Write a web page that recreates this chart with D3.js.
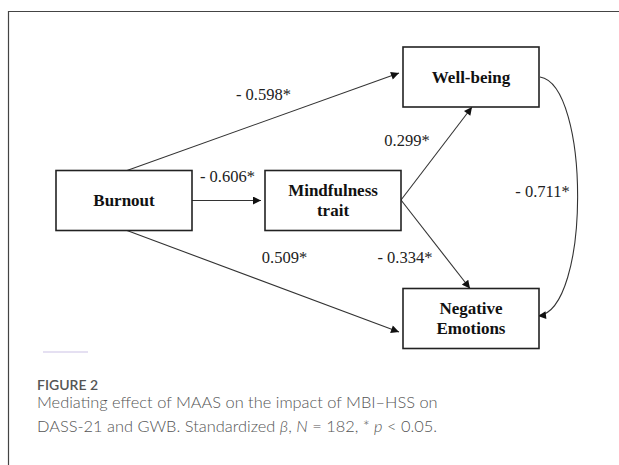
<!DOCTYPE html>
<html>
<head>
<meta charset="utf-8">
<script src="https://cdn.jsdelivr.net/npm/d3@7"></script>
<style>
  body { margin: 0; background: #fff; }
</style>
</head>
<body>
<svg width="619" height="465"></svg>
<script>
var svg = d3.select("svg"),
  width = +svg.attr("width"),
  height = +svg.attr("height");

// nodes of the path model (column / row of the grid)
var nodeNames = ["Burnout", "Mindfulness trait", "Well-being", "Negative Emotions"];
var nodeLines = [["Burnout"], ["Mindfulness", "trait"], ["Well-being"], ["Negative", "Emotions"]];
var nodeCols = ["c0", "c1", "c2", "c2"];
var nodeRows = ["mid", "mid", "top", "bot"];

// paths and standardized coefficients
var edgeFrom = ["Burnout", "Burnout", "Burnout", "Mindfulness trait", "Mindfulness trait", "Well-being"];
var edgeTo = ["Well-being", "Mindfulness trait", "Negative Emotions", "Well-being", "Negative Emotions", "Negative Emotions"];
var edgeLabels = ["- 0.598*", "- 0.606*", "0.509*", "0.299*", "- 0.334*", "- 0.711*"];

// layout
var colX = d3.scaleOrdinal().domain(["c0", "c1", "c2"]).range([124, 333, 471]);
var rowY = d3.scaleOrdinal().domain(["top", "mid", "bot"]).range([77, 200.5, 318.5]);
var boxW = 136, boxH = 60;

var nodes = nodeNames.map(function (n, i) {
  return { name: n, lines: nodeLines[i], x: colX(nodeCols[i]), y: rowY(nodeRows[i]) };
});
var byName = {};
nodes.forEach(function (d) { byName[d.name] = d; });

// frame
svg.append("path")
  .attr("d", "M8.5," + height + "V11.5H" + width)
  .attr("fill", "none")
  .attr("stroke", "#444")
  .attr("stroke-width", 1.2);

// arrow marker
svg.append("defs").append("marker")
  .attr("id", "arrow")
  .attr("viewBox", "0 0 10 10")
  .attr("refX", 10).attr("refY", 5)
  .attr("markerWidth", 10).attr("markerHeight", 8)
  .attr("markerUnits", "userSpaceOnUse")
  .attr("orient", "auto")
  .append("path")
  .attr("d", "M0,0L10,5L0,10Z")
  .attr("fill", "#111");

// anchor points on the boxes
function side(d, s, dx) {
  dx = dx || 0;
  if (s == "top") return [d.x + dx, d.y - boxH / 2];
  if (s == "bottom") return [d.x + dx, d.y + boxH / 2];
  if (s == "left") return [d.x - boxW / 2 - 4, d.y + dx];
  return [d.x + boxW / 2, d.y + dx];
}

var edgeGeom = [
  [side(byName["Burnout"], "top", 3), side(byName["Well-being"], "left", -4)],
  [side(byName["Burnout"], "right"), side(byName["Mindfulness trait"], "left", 0)],
  [side(byName["Burnout"], "bottom", 3), side(byName["Negative Emotions"], "left", 13.5)],
  [side(byName["Mindfulness trait"], "right", -0.5), side(byName["Well-being"], "bottom", 1)],
  [side(byName["Mindfulness trait"], "right", -0.5), side(byName["Negative Emotions"], "top", -1)]
];

var line = d3.line();
var g = svg.append("g");

edgeGeom.forEach(function (pts) {
  g.append("path")
    .attr("d", line(pts))
    .attr("fill", "none")
    .attr("stroke", "#333")
    .attr("stroke-width", 1.1)
    .attr("marker-end", "url(#arrow)");
});

// covariance curve between outcomes
var wb = byName["Well-being"], ne = byName["Negative Emotions"];
var p0 = [wb.x + boxW / 2 + 1, wb.y], p3 = [ne.x + boxW / 2 - 1, ne.y - 2.5];
var cp = d3.path();
cp.moveTo(p0[0], p0[1]);
cp.bezierCurveTo(p0[0] + 50, p0[1] + 8, p3[0] + 53, p3[1] - 6, p3[0], p3[1]);
g.append("path")
  .attr("d", cp.toString())
  .attr("fill", "none")
  .attr("stroke", "#333")
  .attr("stroke-width", 1.1)
  .attr("marker-end", "url(#arrow)");

// boxes
var box = svg.selectAll(".node")
  .data(nodes)
  .enter().append("g")
  .attr("class", "node")
  .attr("transform", function (d) { return "translate(" + d.x + "," + d.y + ")"; });

box.append("rect")
  .attr("x", -boxW / 2).attr("y", -boxH / 2)
  .attr("width", boxW).attr("height", boxH)
  .attr("fill", "#fff")
  .attr("stroke", "#222")
  .attr("stroke-width", 1.6);

box.each(function (d) {
  var t = d3.select(this).append("text")
    .attr("text-anchor", "middle")
    .attr("font-family", "Liberation Serif, Times New Roman, serif")
    .attr("font-weight", "bold")
    .attr("font-size", 17)
    .attr("fill", "#111");
  var n = d.lines.length;
  d.lines.forEach(function (l, i) {
    t.append("tspan")
      .attr("x", 0)
      .attr("y", (i - (n - 1) / 2) * 19.5 + 5.5)
      .text(l);
  });
});

// coefficient labels
var labelX = [263.5, 227.5, 284.5, 407, 405, 542.5];
var labelY = [99.5, 182, 263, 146, 263, 197];
svg.selectAll(".coef")
  .data(edgeLabels)
  .enter().append("text")
  .attr("class", "coef")
  .attr("x", function (d, i) { return labelX[i]; })
  .attr("y", function (d, i) { return labelY[i]; })
  .attr("text-anchor", "middle")
  .attr("font-family", "Liberation Serif, Times New Roman, serif")
  .attr("font-size", 16.5)
  .attr("fill", "#222")
  .text(function (d) { return d; });

// small divider
svg.append("line")
  .attr("x1", 43).attr("x2", 88)
  .attr("y1", 352).attr("y2", 352)
  .attr("stroke", "#ddd6ee")
  .attr("stroke-width", 1.5);

// caption
svg.append("text")
  .attr("x", 37).attr("y", 390)
  .attr("font-family", "Lato, sans-serif")
  .attr("font-size", 14)
  .attr("font-weight", 600)
  .attr("fill", "#555")
  .text("FIGURE 2");

var cap = svg.append("text")
  .attr("font-family", "Lato, sans-serif")
  .attr("font-size", 16.4)
  .attr("font-weight", 300)
  .attr("fill", "#555");
cap.append("tspan").attr("x", 37).attr("y", 408)
  .text("Mediating effect of MAAS on the impact of MBI\u2013HSS on");
var l2 = cap.append("tspan").attr("x", 37).attr("y", 432);
l2.append("tspan").text("DASS-21 and GWB. Standardized ");
l2.append("tspan").attr("font-style", "italic").text("\u03b2");
l2.append("tspan").text(", ");
l2.append("tspan").attr("font-style", "italic").text("N");
l2.append("tspan").text(" = 182, * ");
l2.append("tspan").attr("font-style", "italic").text("p");
l2.append("tspan").text(" < 0.05.");
</script>
</body>
</html>
